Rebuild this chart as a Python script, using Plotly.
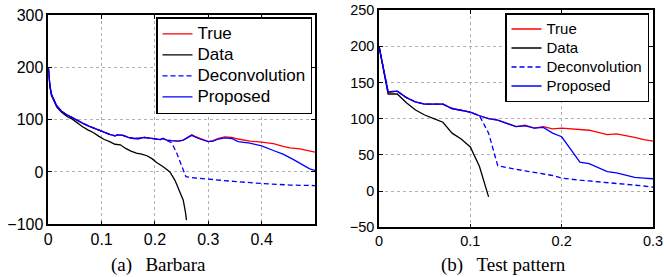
import plotly.graph_objects as go

# ---------------- Panel (a) Barbara ----------------
a_true_x = [0, 0.003, 0.006, 0.01, 0.016, 0.025, 0.035, 0.045, 0.055, 0.065, 0.075, 0.085, 0.095,
            0.105, 0.115, 0.125, 0.13, 0.14, 0.15, 0.16, 0.17, 0.18, 0.19, 0.2, 0.21, 0.215, 0.222,
            0.231, 0.244, 0.253, 0.262, 0.269, 0.275, 0.284, 0.3, 0.309, 0.319, 0.331, 0.344, 0.356,
            0.378, 0.4, 0.422, 0.44, 0.453, 0.472, 0.484, 0.5]
a_true_y = [200, 165, 148, 138, 126, 116, 109, 104, 98, 93, 88, 84, 79,
            75, 72, 69, 71, 70, 66, 64, 64, 66, 65, 64, 62, 64, 61,
            60, 59, 61, 66, 71, 68, 64, 58, 60, 64, 67, 66, 63,
            59, 57, 54, 49, 46, 44, 42, 38]

a_data_x = [0, 0.003, 0.006, 0.01, 0.016, 0.025, 0.035, 0.045, 0.055, 0.065, 0.075, 0.085, 0.095,
            0.105, 0.115, 0.125, 0.135, 0.145, 0.155, 0.165, 0.175, 0.185, 0.195, 0.203, 0.216,
            0.228, 0.2375, 0.247, 0.253, 0.2575, 0.259]
a_data_y = [200, 163, 146, 136, 124, 114, 106, 101, 93, 86, 80, 75, 68,
            62, 58, 53, 52, 45, 40, 36, 34, 31, 25, 18, 9.5,
            0, -16, -38, -54, -79, -92]

a_deconv_x = [0, 0.003, 0.006, 0.01, 0.016, 0.025, 0.035, 0.045, 0.055, 0.065, 0.075, 0.085, 0.095,
              0.105, 0.115, 0.125, 0.13, 0.14, 0.15, 0.16, 0.17, 0.18, 0.19, 0.2, 0.21, 0.215, 0.222,
              0.231, 0.24, 0.247, 0.253, 0.258, 0.272, 0.3, 0.347, 0.4, 0.453, 0.5]
a_deconv_y = [200, 165, 148, 138, 126, 116, 109, 104, 98, 93, 88, 84, 79,
              75, 72, 69, 71, 70, 66, 64, 64, 66, 65, 64, 62, 64, 61,
              56, 38, 19, 3, -9, -11, -14, -18, -22, -25, -26]

a_prop_x = [0, 0.003, 0.006, 0.01, 0.016, 0.025, 0.035, 0.045, 0.055, 0.065, 0.075, 0.085, 0.095,
            0.105, 0.115, 0.125, 0.13, 0.14, 0.15, 0.16, 0.17, 0.18, 0.19, 0.2, 0.21, 0.215, 0.222,
            0.231, 0.244, 0.253, 0.262, 0.269, 0.275, 0.284, 0.3, 0.309, 0.319, 0.331, 0.344, 0.356,
            0.378, 0.4, 0.422, 0.44, 0.459, 0.478, 0.49, 0.5]
a_prop_y = [200, 165, 148, 138, 126, 116, 109, 104, 98, 93, 88, 84, 79,
            75, 72, 69, 71, 70, 66, 64, 64, 66, 65, 64, 62, 64, 61,
            60, 59, 61, 66, 70, 67, 63, 58, 59, 63, 65, 64, 58,
            55, 50, 41, 34, 24, 12, 6, 3]

# ---------------- Panel (b) Test pattern ----------------
b_x = [0, 0.01, 0.02, 0.03, 0.04, 0.05, 0.06, 0.07, 0.08, 0.09, 0.1, 0.11, 0.12, 0.13, 0.14, 0.15,
       0.16, 0.17, 0.18, 0.19, 0.2, 0.21, 0.22, 0.23, 0.24, 0.25, 0.26, 0.27, 0.28, 0.29, 0.3]
b_true_y = [200, 136, 138, 129, 123, 120, 120, 120, 114, 111, 109, 104, 100, 98, 93, 89,
            91, 87, 89, 86, 87, 86, 85, 84, 81, 78, 79, 77, 74, 71, 69]
b_prop_y = [200, 137, 138, 129, 123, 120, 120, 120, 114, 111, 109, 104, 100, 98, 93, 89,
            90, 87, 88, 80, 75, 58, 40, 38, 32, 27, 25, 22, 19, 18, 17]
b_data_x = [0, 0.01, 0.02, 0.03, 0.04, 0.05, 0.06, 0.07, 0.08, 0.09, 0.1, 0.11, 0.12]
b_data_y = [200, 134, 134, 122, 112, 105, 100, 95, 80, 72, 61, 34, -8]
b_deconv_y = [200, 137, 138, 129, 123, 120, 120, 120, 114, 111, 109, 104, 80, 35, 32, 30,
              28, 26, 23.5, 21.5, 18, 16, 15, 14, 13, 11, 10.5, 9.5, 8, 7, 5.5]

names = ["True", "Data", "Deconvolution", "Proposed"]
RED, BLACK, BLUE = "#ff0000", "#000000", "#0000ff"
LW = 1.3
DASH = "5px,3px"

fig = go.Figure()

def label(name, size):
    return f"<span style='font-size:{size}px'>{name}</span>"

def add(x, y, name, color, dash, xa, ya, legend, size):
    fig.add_trace(go.Scatter(x=x, y=y, name=label(name, size), mode="lines",
                             line=dict(color=color, width=LW, dash=dash),
                             xaxis=xa, yaxis=ya, legend=legend))

add(a_true_x, a_true_y, names[0], RED, "solid", "x", "y", "legend", 17)
add(a_data_x, a_data_y, names[1], BLACK, "solid", "x", "y", "legend", 17)
add(a_deconv_x, a_deconv_y, names[2], BLUE, DASH, "x", "y", "legend", 17)
add(a_prop_x, a_prop_y, names[3], BLUE, "solid", "x", "y", "legend", 17)

add(b_x, b_true_y, names[0], RED, "solid", "x2", "y2", "legend2", 15)
add(b_data_x, b_data_y, names[1], BLACK, "solid", "x2", "y2", "legend2", 15)
add(b_x, b_deconv_y, names[2], BLUE, DASH, "x2", "y2", "legend2", 15)
add(b_x, b_prop_y, names[3], BLUE, "solid", "x2", "y2", "legend2", 15)

W, H = 664, 277
def ax_common(size):
    return dict(showline=True, linecolor="black", linewidth=1.5, mirror="ticks",
                ticks="inside", ticklen=4, tickcolor="black", tickwidth=1,
                showgrid=True, gridcolor="#b0b0b0", griddash="dot", gridwidth=1,
                zeroline=False, automargin=False,
                tickfont=dict(family="Liberation Sans, Arial", size=size, color="black"))

fig.update_layout(
    width=W, height=H, margin=dict(l=0, r=0, t=0, b=0, autoexpand=False),
    paper_bgcolor="white", plot_bgcolor="white", showlegend=True,
    xaxis=dict(domain=[48.3 / W, 315 / W], range=[0, 0.5], tickvals=[0, 0.1, 0.2, 0.3, 0.4],
               ticktext=["0", "0.1", "0.2", "0.3", "0.4"], anchor="y", **ax_common(16)),
    yaxis=dict(domain=[1 - 224.3 / H, 1 - 15 / H], range=[-100, 300],
               tickvals=[-100, 0, 100, 200, 300], anchor="x", **ax_common(16)),
    xaxis2=dict(domain=[379 / W, 653 / W], range=[0, 0.3], tickvals=[0, 0.1, 0.2, 0.3],
                ticktext=["0", "0.1", "0.2", "0.3"], anchor="y2", **ax_common(14.5)),
    yaxis2=dict(domain=[1 - 227.3 / H, 1 - 10 / H], range=[-50, 250],
                tickvals=[-50, 0, 50, 100, 150, 200, 250], anchor="x2", **ax_common(14.5)),
    legend=dict(x=312 / W, xanchor="right", y=1 - 17 / H, yanchor="top",
                bgcolor="white", bordercolor="black", borderwidth=1.5,
                font=dict(family="Liberation Sans, Arial", size=13.8, color="black"),
                tracegroupgap=0, itemwidth=30),
    legend2=dict(x=649 / W, xanchor="right", y=1 - 13 / H, yanchor="top",
                 bgcolor="white", bordercolor="black", borderwidth=1.5,
                 font=dict(family="Liberation Sans, Arial", size=11.5, color="black"),
                 tracegroupgap=0, itemwidth=30),
    annotations=[
        dict(text="(a)\u00a0\u00a0\u2009Barbara", x=158 / W, y=1 - 265 / H, xref="paper", yref="paper",
             showarrow=False, xanchor="center", yanchor="middle",
             font=dict(family="Liberation Serif, Times New Roman", size=19, color="black")),
        dict(text="(b)\u00a0\u00a0\u2009Test pattern", x=503 / W, y=1 - 265 / H, xref="paper", yref="paper",
             showarrow=False, xanchor="center", yanchor="middle",
             font=dict(family="Liberation Serif, Times New Roman", size=19, color="black")),
    ],
)

fig.write_html("out.html", config={"displayModeBar": False},
               post_script="document.body.style.margin='0';document.body.style.overflow='hidden';")
